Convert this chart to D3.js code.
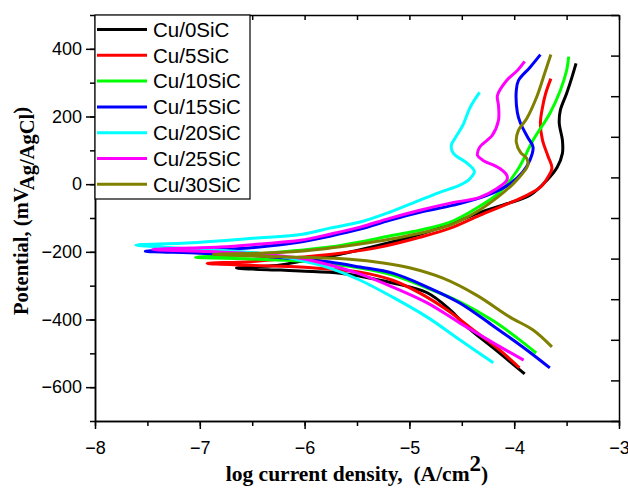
<!DOCTYPE html>
<html>
<head>
<meta charset="utf-8">
<script src="https://cdn.jsdelivr.net/npm/d3@7/dist/d3.min.js"></script>
<style>
  body { margin: 0; background: #fff; }
  svg { display: block; }
  text { white-space: pre; }
</style>
</head>
<body>
<svg id="chart" width="628" height="488"></svg>
<script>
// legend names, in drawing order (later ones end up on top)
const seriesNames = ["Cu/0SiC", "Cu/5SiC", "Cu/10SiC", "Cu/15SiC", "Cu/20SiC", "Cu/25SiC", "Cu/30SiC"];
const seriesColors = ["#000000", "#ff0000", "#00ff00", "#0000ff", "#00ffff", "#ff00ff", "#808000"];

// [log i (A/cm2), E (mV Ag/AgCl)] - cathodic end -> Ecorr tip -> anodic end
const cu0SiC = [
  [-3.90, -561], [-4.20, -484], [-4.45, -422], [-4.61, -372], [-4.83, -321], [-5.16, -292],
  [-5.47, -272], [-5.66, -263], [-6.04, -257], [-6.23, -254], [-6.50, -251], [-6.65, -248],
  [-6.50, -245], [-6.23, -239], [-6.04, -228], [-5.66, -207], [-5.28, -180], [-4.90, -148],
  [-4.61, -118], [-4.33, -84], [-4.07, -58], [-3.85, -33], [-3.69, 11], [-3.59, 50],
  [-3.54, 91], [-3.54, 130], [-3.57, 180], [-3.56, 218], [-3.50, 268], [-3.45, 315], [-3.41, 357]
];
const cu5SiC = [
  [-3.95, -543], [-4.14, -490], [-4.39, -431], [-4.64, -372], [-4.90, -322], [-5.16, -284],
  [-5.47, -260], [-5.66, -254], [-6.04, -245], [-6.52, -240], [-6.93, -234],
  [-6.52, -229], [-6.04, -216], [-5.66, -204], [-5.28, -186], [-4.90, -157], [-4.61, -130],
  [-4.33, -92], [-4.07, -59], [-3.88, -33], [-3.75, -9], [-3.68, 20], [-3.64, 47],
  [-3.68, 85], [-3.73, 130], [-3.75, 180], [-3.73, 227], [-3.70, 268], [-3.65, 312]
];
const cu10SiC = [
  [-3.79, -499], [-3.97, -455], [-4.20, -404], [-4.52, -348], [-4.83, -307], [-5.16, -269],
  [-5.47, -248], [-5.76, -236], [-6.04, -227], [-6.52, -221], [-7.04, -216],
  [-6.52, -208], [-6.04, -195], [-5.76, -186], [-5.47, -171], [-5.19, -153], [-4.90, -136],
  [-4.61, -112], [-4.36, -71], [-4.14, -24], [-3.97, 41], [-3.82, 130], [-3.66, 209],
  [-3.56, 277], [-3.50, 336], [-3.48, 377]
];
const cu15SiC = [
  [-3.66, -543], [-3.88, -490], [-4.20, -419], [-4.52, -351], [-4.83, -304], [-5.16, -263],
  [-5.47, -245], [-5.76, -230], [-6.04, -222], [-6.43, -212], [-7.00, -204], [-7.52, -198],
  [-7.00, -195], [-6.43, -186], [-6.04, -171], [-5.76, -154], [-5.47, -133], [-5.19, -107],
  [-4.90, -83], [-4.58, -62], [-4.26, -33], [-4.04, 1], [-3.92, 35], [-3.85, 71],
  [-3.82, 109], [-3.87, 138], [-3.94, 180], [-3.97, 212], [-3.98, 277], [-3.96, 306],
  [-3.85, 345], [-3.75, 383]
];
const cu20SiC = [
  [-4.20, -528], [-4.52, -460], [-4.83, -393], [-5.16, -334], [-5.47, -284], [-5.76, -248],
  [-6.04, -225], [-6.43, -204], [-7.00, -192], [-7.38, -186], [-7.61, -180],
  [-7.12, -174], [-6.49, -160], [-6.02, -148], [-5.76, -130], [-5.47, -112], [-5.19, -83],
  [-4.90, -47], [-4.71, -24], [-4.52, -3], [-4.42, 17], [-4.38, 38], [-4.45, 62],
  [-4.58, 91], [-4.60, 115], [-4.56, 138], [-4.49, 174], [-4.42, 227], [-4.33, 271]
];
const cu25SiC = [
  [-3.91, -520], [-4.20, -469], [-4.52, -410], [-4.83, -351], [-5.16, -304], [-5.47, -266],
  [-5.76, -239], [-6.04, -219], [-6.43, -207], [-7.00, -198], [-7.45, -193],
  [-6.81, -186], [-6.43, -177], [-6.04, -166], [-5.76, -148], [-5.47, -127], [-5.19, -101],
  [-4.90, -77], [-4.61, -56], [-4.33, -39], [-4.16, -12], [-4.07, 12], [-4.07, 26],
  [-4.14, 47], [-4.30, 71], [-4.35, 85], [-4.33, 109], [-4.21, 144], [-4.15, 189],
  [-4.15, 233], [-4.16, 262], [-4.07, 307], [-3.97, 336], [-3.90, 363]
];
const cu30SiC = [
  [-3.64, -481], [-3.82, -431], [-4.04, -393], [-4.36, -328], [-4.68, -278], [-4.99, -248],
  [-5.25, -233], [-5.57, -222], [-6.04, -216], [-6.43, -213], [-6.87, -207],
  [-6.43, -204], [-6.04, -198], [-5.76, -189], [-5.47, -177], [-5.19, -163], [-4.90, -145],
  [-4.61, -121], [-4.35, -80], [-4.16, -39], [-4.01, 1], [-3.92, 32], [-3.87, 56],
  [-3.88, 76], [-3.94, 94], [-3.98, 124], [-3.96, 159], [-3.88, 194], [-3.78, 262],
  [-3.71, 327], [-3.65, 383]
];
const seriesData = [cu0SiC, cu5SiC, cu10SiC, cu15SiC, cu20SiC, cu25SiC, cu30SiC];

// tick labels
const xTicks = [-8, -7, -6, -5, -4, -3];
const yTicks = [-600, -400, -200, 0, 200, 400];

const svg = d3.select("#chart");
const plot = { left: 95, right: 619, top: 15, bottom: 421 };

const x = d3.scaleLinear().domain([-8, -3]).range([plot.left, plot.right]);
const y = d3.scaleLinear().domain([-700, 500]).range([plot.bottom, plot.top]);

function styleAxis(g) {
  g.selectAll("path, line").attr("stroke", "#000").attr("stroke-width", 1.5);
  g.selectAll("text")
    .attr("fill", "#000")
    .style("font-family", "'Liberation Sans', Arial, sans-serif")
    .style("font-size", "18px");
}

// minor ticks first, majors on top
svg.append("g")
  .attr("transform", `translate(0,${plot.bottom})`)
  .call(d3.axisBottom(x).tickValues(d3.range(-8, -2.9, 0.5)).tickSize(5).tickSizeOuter(0).tickFormat(""))
  .call(styleAxis);
svg.append("g")
  .attr("transform", `translate(0,${plot.bottom})`)
  .call(d3.axisBottom(x).tickValues(xTicks).tickSize(8).tickSizeOuter(0).tickPadding(12).tickFormat(d3.format("d")))
  .call(styleAxis);

svg.append("g")
  .attr("transform", `translate(${plot.left},0)`)
  .call(d3.axisLeft(y).tickValues(d3.range(-700, 501, 100)).tickSize(5).tickSizeOuter(0).tickFormat(""))
  .call(styleAxis);
svg.append("g")
  .attr("transform", `translate(${plot.left},0)`)
  .call(d3.axisLeft(y).tickValues(yTicks).tickSize(9).tickSizeOuter(0).tickPadding(4).tickFormat(d3.format("d")))
  .call(styleAxis);

// top and right frame, ticks pointing inward
svg.append("g")
  .attr("transform", `translate(0,${plot.top})`)
  .call(d3.axisTop(x).tickValues(d3.range(-8, -2.9, 0.5)).tickSize(-5).tickSizeOuter(0).tickFormat(""))
  .call(styleAxis);
svg.append("g")
  .attr("transform", `translate(${plot.right},0)`)
  .call(d3.axisRight(y).tickValues(d3.range(-700, 501, 120)).tickSize(-8).tickSizeOuter(0).tickFormat(""))
  .call(styleAxis);

// the curves
const line = d3.line()
  .x(d => x(d[0]))
  .y(d => y(d[1]))
  .curve(d3.curveCatmullRom.alpha(0.5));

svg.append("g")
  .selectAll("path")
  .data(seriesData)
  .join("path")
  .attr("d", line)
  .attr("fill", "none")
  .attr("stroke", (d, i) => seriesColors[i])
  .attr("stroke-width", 3)
  .attr("stroke-linejoin", "round");

// legend box in the top-left corner
const legend = svg.append("g");
legend.append("rect")
  .attr("x", plot.left)
  .attr("y", plot.top)
  .attr("width", 155)
  .attr("height", 184)
  .attr("fill", "#fff")
  .attr("stroke", "#000")
  .attr("stroke-width", 1.2);

const rows = legend.selectAll("g.row")
  .data(seriesNames)
  .join("g")
  .attr("class", "row")
  .attr("transform", (d, i) => `translate(0,${29.5 + i * 25.8})`);
rows.append("line")
  .attr("x1", plot.left + 2)
  .attr("x2", 147)
  .attr("stroke", (d, i) => seriesColors[i])
  .attr("stroke-width", 3);
rows.append("text")
  .attr("x", 153)
  .attr("dy", "0.36em")
  .style("font-family", "'Liberation Sans', Arial, sans-serif")
  .style("font-size", "20.5px")
  .text(d => d);

// axis titles
const xTitle = svg.append("text")
  .attr("x", (plot.left + plot.right) / 2)
  .attr("y", 481)
  .attr("text-anchor", "middle")
  .style("font", "bold 21.5px 'Liberation Serif', 'Times New Roman', serif");
xTitle.append("tspan").text("log current density,  (A/cm");
xTitle.append("tspan").attr("dy", -10).style("font-size", "23px").text("2");
xTitle.append("tspan").attr("dy", 10).text(")");

const yTitle = svg.append("text")
  .attr("transform", "translate(28,211) rotate(-90)")
  .attr("text-anchor", "middle")
  .style("font", "bold 20.5px 'Liberation Serif', 'Times New Roman', serif");
yTitle.append("tspan").text("Potential, (mV");
yTitle.append("tspan").attr("dy", 6).text("Ag/AgCl");
yTitle.append("tspan").attr("dy", -6).text(")");
</script>
</body>
</html>
